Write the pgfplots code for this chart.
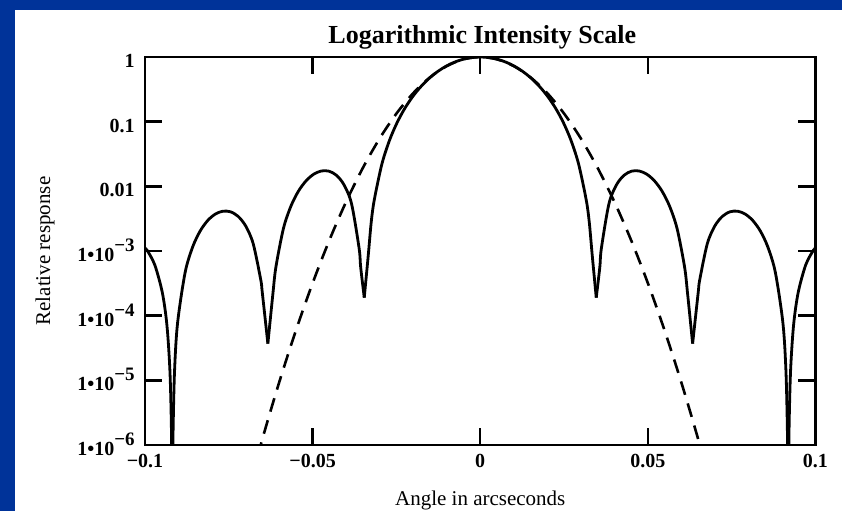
\documentclass[border=0pt]{standalone}
\usepackage{fontspec}
\setmainfont{Liberation Serif}
\usepackage{pgfplots}
\pgfplotsset{compat=1.18}
\definecolor{frameblue}{RGB}{0,51,153}
% Mathcad-style power label: 1•10 with a raised -n
\newcommand{\pw}[1]{1•10\smash{\raisebox{5pt}{\fontsize{9.5}{10}\selectfont −#1}}}

\begin{document}
\begin{tikzpicture}
\fill[frameblue] (0,0) rectangle (421pt,255.5pt);
\fill[white] (7.5pt,0) rectangle (421pt,250.5pt);
\begin{axis}[
    at={(72.5pt,33pt)}, anchor=south west,
    scale only axis, width=335.25pt, height=194pt,
    xmin=-0.1, xmax=0.1,
    ymode=log, ymin=1e-6, ymax=1,
    xtick={-0.1,-0.05,0,0.05,0.1},
    xticklabels={−0.1,−0.05,0,0.05,0.1},
    ytick={1e-6,1e-5,1e-4,1e-3,1e-2,1e-1,1},
    yticklabels={\pw{6},\pw{5},\pw{4},\pw{3},0.01,0.1,1},
    yminorticks=false,
    tick align=inside, tick pos=both, major tick length=8.5pt,
    axis line style={line width=1.2pt},
    tick style={black, line width=1.2pt},
    ticklabel style={font=\bfseries\fontsize{10}{12}\selectfont},
    xticklabel style={anchor=base, yshift=-11pt, inner sep=0pt},
    yticklabel style={anchor=east, xshift=-5pt, yshift=-2pt, inner sep=0pt},
    title={Logarithmic Intensity Scale},
    every axis title/.style={at={(axis description cs:0.5,1)}, anchor=base,
        yshift=7pt, xshift=1pt, font=\bfseries\fontsize{13}{15}\selectfont},
    xlabel={Angle in arcseconds},
    every axis x label/.style={at={(axis description cs:0.5,0)}, anchor=base,
        yshift=-30pt, font=\fontsize{10.5}{12}\selectfont},
    ylabel={Relative response},
    every axis y label/.style={at={(axis description cs:-0.149,0.5)}, anchor=center,
        rotate=90, font=\fontsize{10.5}{12}\selectfont},
]
% diffraction pattern, one lobe per plot so the nulls stay sharp
\addplot[black, line width=1.4pt, smooth, line join=round] coordinates {
 (-0.1,1.1e-3) (-0.09933,1.02e-3) (-0.09707,6.07e-4) (-0.09482,2.26e-4)
 (-0.09346,7.13e-5) (-0.09256,1.38e-5) (-0.09211,1.68e-6) (-0.09187,1e-7)};
\addplot[black, line width=1.4pt, smooth, line join=round] coordinates {
 (-0.09187,1e-7) (-0.09165,1.34e-6) (-0.09120,1.33e-5) (-0.09030,7.57e-5)
 (-0.08804,4.63e-4) (-0.08579,1.153e-3) (-0.08353,2.045e-3) (-0.08127,2.972e-3)
 (-0.07901,3.731e-3) (-0.07676,4.129e-3) (-0.07450,4.041e-3) (-0.07224,3.440e-3)
 (-0.06998,2.445e-3) (-0.06773,1.300e-3) (-0.06547,3.58e-4) (-0.06502,2.30e-4)
 (-0.06335,3.7e-5)};
\addplot[black, line width=1.4pt, smooth, line join=round] coordinates {
 (-0.06335,3.7e-5) (-0.06186,2.155e-4) (-0.06095,5.66e-4) (-0.05870,2.240e-3)
 (-0.05644,4.989e-3) (-0.05418,8.507e-3) (-0.05192,1.223e-2) (-0.04967,1.541e-2)
 (-0.04741,1.728e-2) (-0.04515,1.717e-2) (-0.04289,1.483e-2) (-0.04064,1.055e-2)
 (-0.03838,5.36e-3) (-0.03612,1.089e-3) (-0.03567,5.64e-4) (-0.03460,1.9e-4)};
\addplot[black, line width=1.4pt, smooth, line join=round] coordinates {
 (-0.03460,1.9e-4) (-0.03341,8.51e-4) (-0.03251,2.827e-3) (-0.03161,6.164e-3)
 (-0.02935,2.202e-2) (-0.02709,5.111e-2) (-0.02483,9.599e-2) (-0.02258,0.1582)
 (-0.02032,0.2376) (-0.01806,0.3326) (-0.01580,0.4397) (-0.01355,0.5533)
 (-0.01129,0.6674) (-0.00903,0.7748) (-0.00677,0.8671) (-0.00452,0.9394)
 (-0.00226,0.9841) (0,1)
 (0.00226,0.9841) (0.00452,0.9394) (0.00677,0.8671) (0.00903,0.7748)
 (0.01129,0.6674) (0.01355,0.5533) (0.01580,0.4397) (0.01806,0.3326)
 (0.02032,0.2376) (0.02258,0.1582) (0.02483,9.599e-2) (0.02709,5.111e-2)
 (0.02935,2.202e-2) (0.03161,6.164e-3) (0.03251,2.827e-3) (0.03341,8.51e-4)
 (0.03460,1.9e-4)};
\addplot[black, line width=1.4pt, smooth, line join=round] coordinates {
 (0.03460,1.9e-4) (0.03567,5.64e-4) (0.03612,1.089e-3) (0.03838,5.36e-3)
 (0.04064,1.055e-2) (0.04289,1.483e-2) (0.04515,1.717e-2) (0.04741,1.728e-2)
 (0.04967,1.541e-2) (0.05192,1.223e-2) (0.05418,8.507e-3) (0.05644,4.989e-3)
 (0.05870,2.240e-3) (0.06095,5.66e-4) (0.06186,2.155e-4) (0.06335,3.7e-5)};
\addplot[black, line width=1.4pt, smooth, line join=round] coordinates {
 (0.06335,3.7e-5) (0.06502,2.30e-4) (0.06547,3.58e-4) (0.06773,1.300e-3)
 (0.06998,2.445e-3) (0.07224,3.440e-3) (0.07450,4.041e-3) (0.07676,4.129e-3)
 (0.07901,3.731e-3) (0.08127,2.972e-3) (0.08353,2.045e-3) (0.08579,1.153e-3)
 (0.08804,4.63e-4) (0.09030,7.57e-5) (0.09120,1.33e-5) (0.09165,1.34e-6)
 (0.09187,1e-7)};
\addplot[black, line width=1.4pt, smooth, line join=round] coordinates {
 (0.09187,1e-7) (0.09211,1.68e-6) (0.09256,1.38e-5) (0.09346,7.13e-5)
 (0.09482,2.26e-4) (0.09707,6.07e-4) (0.09933,1.02e-3) (0.1,1.1e-3)};
% gaussian approximation
\addplot[black, line width=1.3pt, smooth, dash pattern=on 7pt off 4.5pt] coordinates {
 (-0.07,1.4e-7) (-0.065,1.232e-6) (-0.06,9.22e-6) (-0.055,5.876e-5)
 (-0.05,3.185e-4) (-0.045,1.472e-3) (-0.04,5.785e-3) (-0.035,1.935e-2)
 (-0.03,5.511e-2) (-0.025,0.1336) (-0.02,0.2758) (-0.015,0.4845)
 (-0.01,0.7247) (-0.005,0.9226) (0,1)
 (0.005,0.9226) (0.01,0.7247) (0.015,0.4845) (0.02,0.2758)
 (0.025,0.1336) (0.03,5.511e-2) (0.035,1.935e-2) (0.04,5.785e-3)
 (0.045,1.472e-3) (0.05,3.185e-4) (0.055,5.876e-5) (0.06,9.22e-6)
 (0.065,1.232e-6) (0.07,1.4e-7)};
\end{axis}
\pgfresetboundingbox
\path (0,0) rectangle (421pt,255.5pt);
\end{tikzpicture}
\end{document}
